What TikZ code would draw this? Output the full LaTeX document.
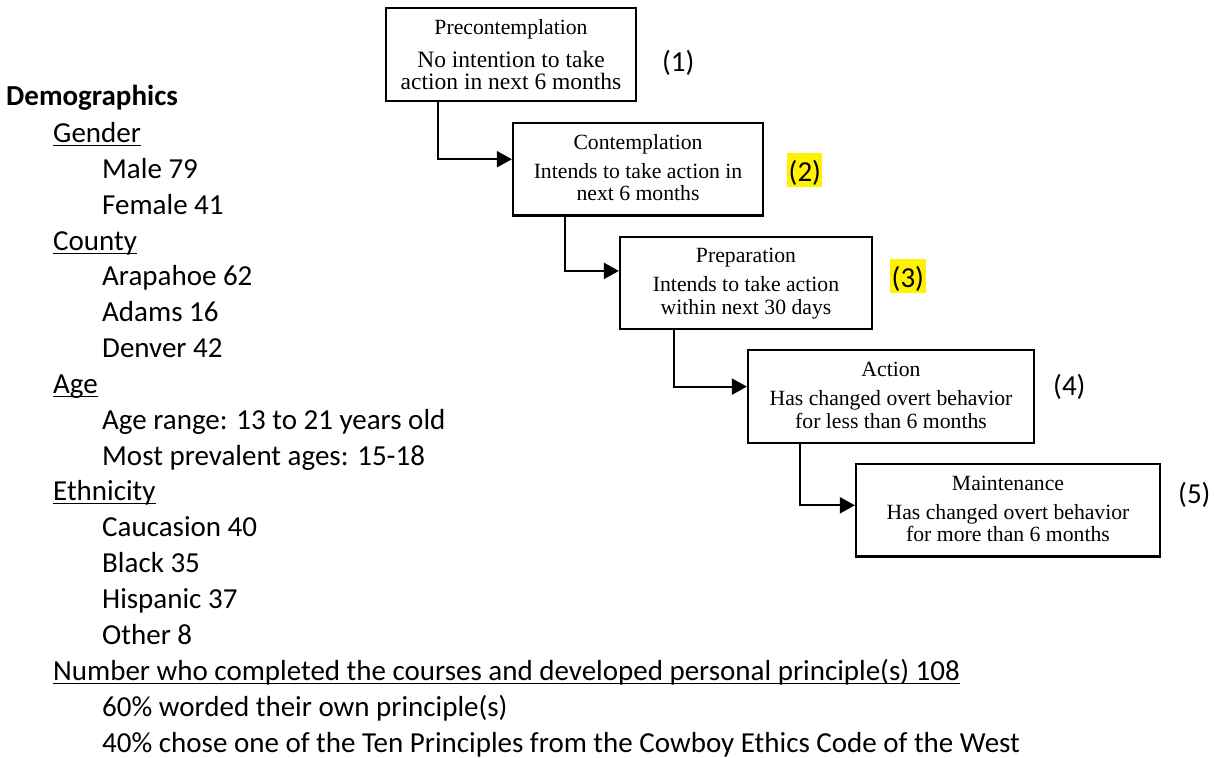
\documentclass[tikz,border=0pt]{standalone}
\usepackage{fontspec}
\setmainfont{Carlito}
\newfontfamily\stagefont{Liberation Serif}
\usetikzlibrary{arrows.meta,positioning}

\newcommand{\topstrut}{\rule{0pt}{17.3pt}}
\newcommand{\botstrut}{\rule[-6pt]{0pt}{6pt}}

\begin{document}
\begin{tikzpicture}[
  x=1pt, y=-1pt,
  stage/.style={
    rectangle,
    draw=black,
    line width=2.2pt,
    inner sep=0pt,
    minimum height=92.5pt,
    align=center,
    font=\stagefont\fontsize{21.7}{22.5}\selectfont
  },
  item/.style={anchor=base west, inner sep=0pt, font=\fontsize{29}{35.85}\selectfont},
  tag/.style={anchor=base west, inner xsep=1.5pt, inner ysep=0pt,
    text height=28pt, text depth=6pt, font=\fontsize{29}{35.85}\selectfont},
  hilite/.style={fill=yellow},
  under/.style={line width=1.8pt},
  flow/.style={-{Triangle[length=15pt,width=16pt]}, line width=2pt}
]
\useasboundingbox (0,0) rectangle (1214,757);

% --- STAGES OF CHANGE ----------------------------------------------
\node[stage, minimum width=250pt, font=\stagefont\fontsize{21.7}{22}\selectfont] (pre) at (511,54.5) {
  \topstrut Precontemplation\\[11pt]
  \fontsize{23.5}{22}\selectfont No intention to take\\
  \fontsize{23.5}{22}\selectfont action in next 6 months\rule[-1.3pt]{0pt}{1.3pt}
};

\node[stage, minimum width=250pt, below right=20pt and 127pt of pre.south west] (con) {
  \topstrut Contemplation\\[6.5pt]
  Intends to take action in\\
  next 6 months\botstrut
};

\node[stage, minimum width=252pt, below right=19pt and 107pt of con.south west] (prep) {
  \topstrut Preparation\\[6.5pt]
  Intends to take action\\
  within next 30 days\botstrut
};

\node[stage, minimum width=286pt, below right=19pt and 128pt of prep.south west] (act) {
  \topstrut Action\\[6.5pt]
  Has changed overt behavior\\
  for less than 6 months\botstrut
};

\node[stage, minimum width=304pt, below right=19pt and 108pt of act.south west] (maint) {
  \topstrut Maintenance\\[6.5pt]
  Has changed overt behavior\\
  for more than 6 months\botstrut
};

% --- STAGE NUMBERS -------------------------------------------------
\node[tag] (n1) at (660.5,72) {(1)};
\node[tag, hilite] (n2) at (787,181) {(2)};
\node[tag, hilite] (n3) at (890,287) {(3)};
\node[tag] (n4) at (1051.5,395) {(4)};
\node[tag] (n5) at (1176.5,503) {(5)};

% --- ARROWS --------------------------------------------------------
\draw[flow] ([xshift=53pt]pre.south west) |- ([yshift=10pt]con.west);
\draw[flow] ([xshift=53pt]con.south west) |- ([yshift=12pt]prep.west);
\draw[flow] ([xshift=55pt]prep.south west) |- ([yshift=10pt]act.west);
\draw[flow] ([xshift=53pt]act.south west) |- ([yshift=5pt]maint.west);

% --- DEMOGRAPHICS --------------------------------------------------
\node[item, font=\fontsize{29}{35.85}\selectfont\bfseries] (demo) at (6,106) {Demographics};
\node[item] (gender) at (53,142) {Gender};
\node[item] (male) at (102,178) {Male 79};
\node[item] (female) at (102,214) {Female 41};
\node[item] (county) at (53,250) {County};
\node[item] (arap) at (102,285) {Arapahoe 62};
\node[item] (adams) at (102,321) {Adams 16};
\node[item] (denver) at (102,357) {Denver 42};
\node[item] (age) at (53,393) {Age};
\node[item] (range) at (102,429) {Age range: 13 to 21 years old};
\node[item] (prev) at (102,465) {Most prevalent ages: 15-18};
\node[item] (eth) at (53,500) {Ethnicity};
\node[item] (cauc) at (102,536) {Caucasion 40};
\node[item] (black) at (102,572) {Black 35};
\node[item] (hisp) at (102,608) {Hispanic 37};
\node[item] (other) at (102,644) {Other 8};
\node[item] (done) at (53,680) {Number who completed the courses and developed personal principle(s) 108};
\node[item] (own) at (102,716) {60\% worded their own principle(s)};
\node[item] (ten) at (102,752) {40\% chose one of the Ten Principles from the Cowboy Ethics Code of the West};

% underlined headings
\foreach \h in {gender,county,age,eth,done}
  \draw[under] ([yshift=-3.5pt]\h.base west) -- ([yshift=-3.5pt]\h.base east);

\end{tikzpicture}
\end{document}
